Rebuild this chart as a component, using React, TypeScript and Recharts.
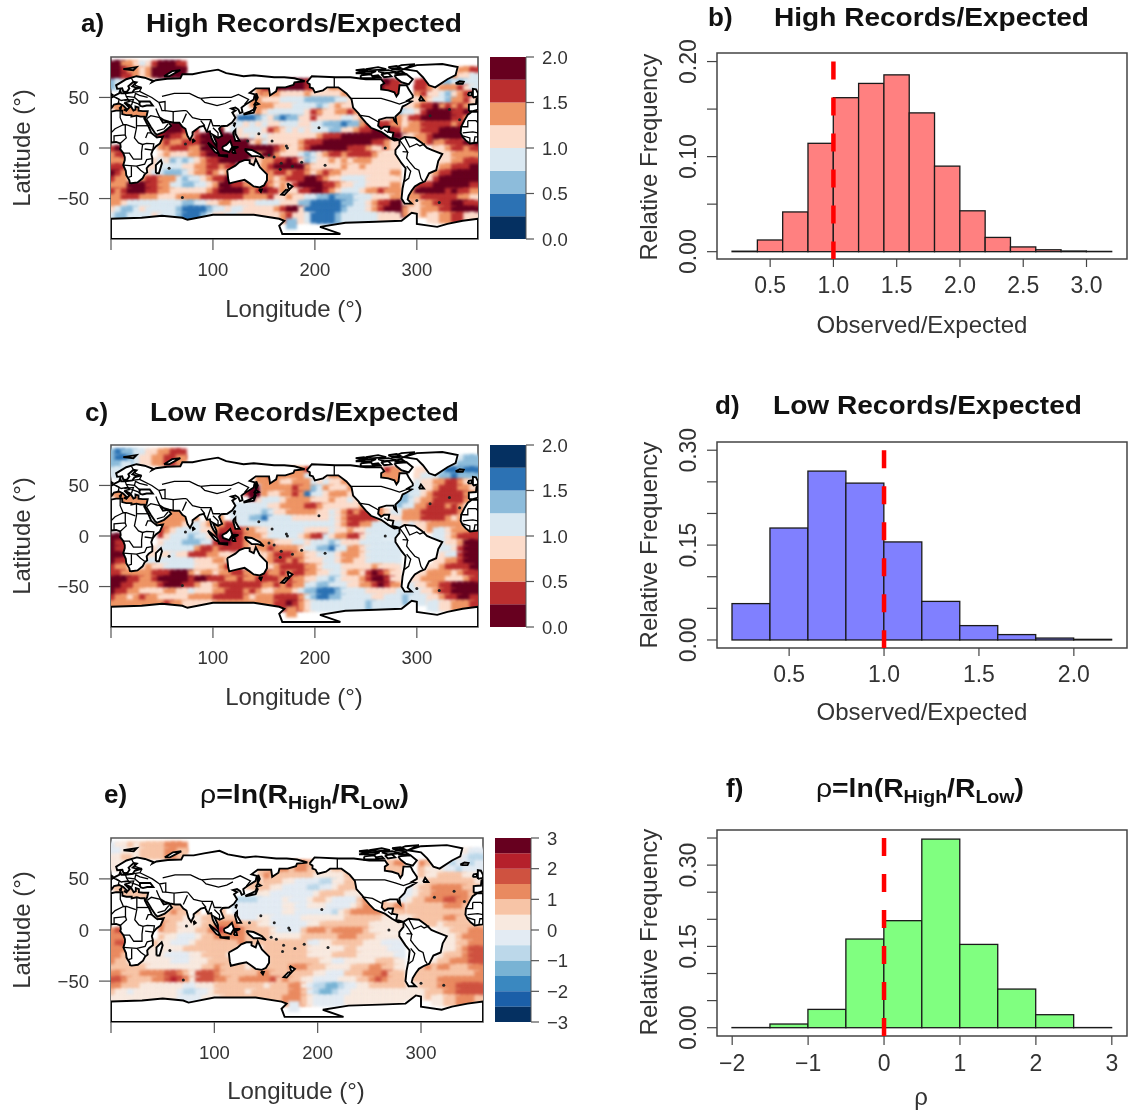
import {
  Bar,
  BarChart,
  ComposedChart,
  ReferenceArea,
  ReferenceLine,
  Scatter,
  ScatterChart,
  XAxis,
  YAxis,
} from "recharts";

const FONT = '"Liberation Sans", Arial, sans-serif';
const INK = "#333";

// colour classes, navy (0) to dark red (last)
const PAL8 = ["#053061", "#2C72B4", "#8DBCDB", "#DAE8F1", "#FCDCCB", "#EE9565", "#BB2F2F", "#67001F"];
const PAL12 = ["#053061", "#1B5FA8", "#3A88C0", "#79B3D4", "#BCD8EA", "#E3EBF3", "#F8E9DF", "#F7C4A6", "#E98A60", "#CF5240", "#B5202B", "#67001F"];

// field rows: 6 degree cells, lat 81 down to -75, lon 3 to 357, "." = no data
const HIGH_ROWS = [
  "7755434677 76........ .......... .......... .......... ..........",
  "7765545777 77........ .......... .......... .......... .......556",
  "776....... .......... .......... .......... .......... ......5443",
  "23........ .......... .........7 7767...... ....776... 6665223233",
  ".......... .......... ....567777 7766445555 ....766... 6654555643",
  ".......... .......... .....55544 4454444455 .......... 5644324566",
  "5......... .......... ...5544433 3322222334 .........4 4543325564",
  ".5555..... .......... ....555444 3333234544 .......344 5667565654",
  "..5555.... .......... ....543333 3346544556 55.....233 4677776676",
  ".......... .........4 4111234212 2446444433 45664.5546 6777776654",
  ".......... 77....55.. 3343434433 3443322212 2566665.45 5666665677",
  "........77 7766..77.. 3433346543 4343332244 5667776.55 5666777766",
  "........67 6654677777 ..43434444 4444566677 7777777744 5567777...",
  "........56 5566677777 7774534444 4566677777 7776654... ...5566677",
  "67.......5 6665577777 7777777654 4567777776 6654...... ...4456656",
  "56......45 4445567777 7777577544 4323456656 6665444... ....445555",
  "55.....434 2323456677 ...4455667 6423445454 5554444... ....445566",
  "66....4.33 3344556656 .....56777 7754444454 4544444... ....556667",
  "765...4332 2234556545 ......5665 6654565544 4444445... ..45667777",
  "6554456655 5323345667 6.....5456 6677654433 3344444... ..46777777",
  "5557776655 3322334577 6655565454 6777766544 3344445..4 6667777776",
  "6567776655 4444445677 7765676.54 4667765433 3455655..5 7777767665",
  "5566655544 4555566666 6655556445 4433221222 3334445..5 5666666554",
  "5543333333 3322334455 4444333344 4221111122 3345667745 4556667766",
  "4322343333 3211112334 3344444567 7411111123 3345677754 4555667777",
  "3223333433 3211123443 34444.4456 4431111233 3333444... ..44556644",
  ".......... .......... .........2 .......... .......... ..........",
];

const LOW_ROWS = [
  "2122334455 66........ .......... .......... .......... ..........",
  "2112344556 65........ .......... .......... .......... .......322",
  "223....... .......... .......... .......... .......... ......3222",
  "33........ .......... .........5 5565...... ....465... 4432211211",
  ".......... .......... ....556555 5533345544 ....555... 4333221222",
  ".......... .......... .....55544 5553434455 .......... 3445566544",
  "5......... .......... ..67.55555 6552354445 .........3 3445666554",
  ".5555..... .......... ...7.54455 6513345554 5......223 3456666655",
  "..5555.... .......... ....433345 5554445443 43.....223 4556666654",
  ".......... .........3 3333334455 5566544444 45.5....33 5566656544",
  ".......... 55....44.. 3333323445 5555443456 5666543.55 5666666545",
  "........55 5555..55.. 3332213333 4444443456 6666544.55 5666654555",
  "........55 5543345556 ..33333333 3333333456 6553333343 4455555...",
  "........65 4333344566 6655443333 3344443445 4433333... ...3345556",
  "77.......4 3332334677 7655543333 3456634556 6433...... ...3345666",
  "76......43 3322233677 6654555444 3343332344 4333333... ....344577",
  "76.....433 3333566566 .....56555 5433221335 5433333... ....334677",
  "77....4.44 3446665544 .....45666 5544333455 5433333... ....433677",
  "766...3333 3333444554 ......5665 6544433455 4433333... ...4455677",
  "6554.45443 3333444456 6.....4566 6655433344 4445444... ..44566667",
  "6655555666 7775455455 6655565565 6655443345 5467654..3 4455554566",
  "7776655677 7776776665 5655666.56 5544332344 4567764..4 4555544456",
  "7766555567 7766544566 6666655656 5533223334 4556765..3 4455667777",
  "7665544445 5443444556 6656544555 4322111233 3344444333 3445667777",
  "6554565544 4445555666 6654555666 6532112233 3334433323 3344566776",
  "5555555556 5544444555 55555.5667 6543333333 3323333... ..33445556",
  ".......... .......... .........5 .......... .......... ..........",
];

const RHO_ROWS = [
  "5667677778 88........ .......... .......... .......... ..........",
  "5566677778 87........ .......... .......... .......... .......655",
  "667....... .......... .......... .......... .......... ......6544",
  "66........ .......... .........8 8878...... ....778... 8766545545",
  ".......... .......... ....778887 8877767776 ....777... 7666554555",
  ".......... .......... .....87777 7776666677 .......... 7667777666",
  "7......... .......... ..77.77766 5555446677 .........6 6777777776",
  ".7777..... .......... ....776655 5544556777 7......556 7788888777",
  "..7777.... .......... ....665555 5556777766 67.....556 7788888877",
  ".......... .........5 4444555565 5567765555 78.7....67 7888998877",
  ".......... 77....77.. 5555555566 5566655556 7888778.77 7777888777",
  "........77 8777..77.. 5555555566 5555554678 8888777.77 7777777777",
  "........77 7766677777 ..55665555 5666666677 7777666667 7777887...",
  "........87 7666677888 8777665555 5566777777 7766666... ...6777777",
  "89.......7 7666778a98 9877776555 5788878888 8766...... ...6677788",
  "88......76 6555677888 8877776666 6777777888 7776666... ....667888",
  "89.....766 5556777777 .....77777 7755667777 7666555... ....667788",
  "88....6.66 6677777777 .....77777 7766666677 6666655... ....667899",
  "887...6665 5556677776 ......7777 7766667777 6666665... ...6777899",
  "8776.66666 5556667777 7.....7777 7777665566 6667776... ..67788899",
  "7777776666 6666677877 7767777778 8877766667 7788776..7 7878877788",
  "8877788889 9876999877 7777887.77 7776655577 7888977..7 7777777778",
  "9987777889 a986999887 7888889787 7665555666 7789877..7 7778888888",
  "8877766666 6655666777 7777767778 8654433455 6677777766 7778889999",
  "7665666666 6544556777 7767777778 8754334556 6666666666 6777889999",
  "6666666666 6555566677 77777.7788 8765555566 6666666... ..66778887",
  ".......... .......... .........5 .......... .......... ..........",
];

// land outlines as [lon, lat]
const LAND: number[][][] = [
  [[0,5.5],[5,6],[9,4.5],[9.5,1],[9,-1],[12,-5],[13.5,-9],[13.5,-12],[12,-17],[14.5,-22.5],[15,-27],[18,-32],[18.5,-34.5],[20,-34.8],[26,-34],[31,-30],[33,-26],[35.5,-24],[35,-20],[37,-17.5],[40.5,-15],[40.5,-10],[39.5,-6],[41,-2],[44,1.5],[48,4.5],[51,11.5],[45,10.5],[43,12],[39.5,15],[37,21],[35,24.5],[33,28.5],[32.5,31],[29,31],[25,32],[20,31],[20,32.5],[15,32.5],[11,33.5],[11,37],[5,37],[0,36]],
  [[360,36],[354,35.8],[350,33],[347,28],[343.5,21],[343,15],[345,11],[348,7.5],[352,4.5],[356,5],[360,5.5]],
  [[351,36.5],[351,43],[358,43.5],[358.5,48.5],[360,49.5],[360,38],[355,36.5]],
  [[0,39],[3,43],[8,44],[12,42],[16,38],[18,40],[13,45],[19,42],[22,37],[24,38],[24,41],[27,40],[27,37],[31,36.5],[36,36.5],[35,32],[34.5,31],[33,29],[35,28],[39,21],[43,15],[45,13],[52,16],[59,22],[56,26],[51,25],[48,30],[52,27.5],[57,26],[62,25],[67,25],[70,21],[73,19],[75,12],[77.5,8],[80,13],[80,15.5],[87,21],[91,22],[94,16],[97,16.5],[98.5,10],[100.5,6],[103.5,1.5],[103.5,5],[100,13],[105,10],[109,12],[106,19],[108,21.5],[114,22],[119,25.5],[122,30],[119,35],[122,37],[118,39],[122,40],[125,38],[126.5,34.5],[129,35.5],[128,40],[132,43],[140,48],[141,53],[136,54.5],[142,59],[155,59],[156,52],[162,56],[163,60],[171,60],[179,62.5],[180,65],[190,66],[180,69],[170,70],[160,70],[140,72],[130,71],[113,74],[105,77.5],[90,75],[80,73],[70,73],[68,69],[55,68.5],[44,67],[40,65],[41,66.5],[33,69.5],[25,71],[15,68],[5,62],[6,58.5],[11,59],[12,56],[14,55.5],[16,56],[18,59],[17,61],[22,65.5],[25,65],[21,61],[24,60],[30,60],[23,58],[21,55],[14,54],[10,54],[9,57],[8,54],[4,52],[1.5,50.5],[0,49.5]],
  [[28,42],[28,46],[33,46],[38,46],[41,42],[35,42],[31,41]],
  [[0,51],[1.5,52.5],[0,53.5]],
  [[355,50],[360,51],[360,54],[358,58],[355,58.5],[355,54]],
  [[350,52],[354,52],[354,55],[351,54.5]],
  [[338,64],[342,66],[346,65.5],[345,63.5],[340,63.5]],
  [[44,-25],[47,-25],[50,-15],[49,-12],[44,-17]],
  [[80,9],[82,7],[80.5,6]],
  [[130,33],[135,34],[140,35],[142,40],[141,41],[140,38],[136,36],[131,34]],
  [[140,42],[145,43.5],[142,45.5]],
  [[142,46],[144,50],[142.5,54],[142,50]],
  [[120,23],[122,25],[121,22]],
  [[120,16],[122,18],[122,14],[126,7],[122,7],[120,14]],
  [[109,1],[113,3],[117,7],[119,1],[116,-4],[110,-2]],
  [[95,5.5],[104,-2],[106,-6],[102,-4],[97,2]],
  [[105,-7],[114,-7],[114,-8.5],[106,-7.5]],
  [[119,-5],[120,1],[125,1],[121,-1],[122,-5]],
  [[131,-1],[138,-2],[146,-6],[150,-10],[144,-8],[138,-8],[133,-4]],
  [[114,-22],[122,-17.5],[126,-14],[131,-12],[136,-12],[136,-15],[140,-17],[142,-11],[146,-19],[153,-26],[153,-32],[150,-37],[146,-39],[140,-38],[136,-35],[131,-31.5],[124,-33],[116,-35],[115,-31]],
  [[145,-41],[148,-41],[147,-43.5]],
  [[173,-35],[178,-38],[175,-41],[174,-39]],
  [[172,-41],[174,-42],[170,-46.5],[167,-46]],
  [[192,65],[197,71],[220,70],[235,70],[250,68],[265,68],[268,64],[265,62],[265,58],[272,57],[278,55],[280,51],[282,54],[283,62],[290,62],[292,58],[296,52],[296,50],[291,47],[295,46],[290,43],[286,41],[284,36],[279,31],[280,25],[278,27],[277,30],[270,30],[263,28],[262,22],[265,19],[268,21],[273,21],[272,16],[277,15],[276,10],[280,9],[283,8],[278,7.5],[272,11],[265,16],[255,20],[250,25],[245,31],[243,34],[237.5,40],[236,48],[231,54],[223,60],[212,60],[208,57],[200,55],[198,59],[195,60],[195,63]],
  [[283,8],[288,11],[298,10],[305,5],[310,0],[315,-2],[325,-6],[321,-13],[319,-22],[312,-25],[308,-33],[303,-35],[298,-38],[295,-42],[292,-47],[291,-51],[295,-55],[288,-55],[285,-50],[286,-40],[288,-30],[289,-20],[285,-15],[279,-6],[279,-2],[283,3]],
  [[287,78],[300,82],[325,83],[340,80],[338,72],[330,68],[318,60],[312,62],[306,70],[300,76]],
  [[278,72],[290,73],[296,68],[292,63],[285,65],[280,69]],
  [[275,78],[285,82],[298,83],[285,77]],
  [[245,72],[255,73],[258,69],[245,69]],
  [[240,74],[250,76],[260,76],[255,74]],
  [[262,76],[272,77],[280,75],[268,74]],
  [[250,78],[262,80],[270,78],[258,77]],
  [[265,73],[272,74],[275,71],[268,70]],
  [[240,77],[248,78],[252,77],[244,76]],
  [[272,80],[280,81],[284,79],[275,78.5]],
  [[256,71],[262,72],[264,70],[258,69.5]],
  [[278,74.5],[285,76],[288,74],[281,73.5]],
  [[302,47],[307,47],[304,51]],
  [[12,78],[25,80],[22,77]],
  [[52,71],[60,76],[68,77],[57,71]],
  [[8,39],[10,41],[9.5,38.5]],
  [[12.5,38],[15.5,38],[15,36.8]],
  [[0,-70],[30,-69],[50,-67],[70,-69],[75,-71],[100,-66],[140,-66],[165,-70],[170,-72],[165,-77],[168,-85],[225,-85],[205,-78],[230,-74],[260,-73],[285,-72],[295,-64],[300,-65],[300,-75],[320,-78],[330,-75],[345,-72],[360,-70],[360,-89.9],[0,-89.9]],
];

const BORDERS: number[][][] = [
  [[47,45],[53,46],[53,37],[50,37],[49,40],[47,45]],
  [[25,31.5],[25,20],[24,15],[23,10],[27,5],[31,3.5],[35,4.5],[42,4],[41,-2]],
  [[9,37],[9,30],[12,23],[15,23],[24,20]],
  [[0,15],[4,19],[12,23]],
  [[3,6],[3,12],[14,13],[15,10],[9,4.5]],
  [[14,13],[14,23]],
  [[12,-5],[18,-5],[22,-11],[30,-11],[30,-4],[31,3.5]],
  [[12,-17],[25,-18],[33,-16],[35,-11.5],[40,-10.5]],
  [[20,-18],[20,-28],[17,-29]],
  [[25,-18],[29,-22],[33,-25]],
  [[33,-1],[41,-2]],
  [[34,10],[36,15],[39,15]],
  [[25,22],[37,22]],
  [[345,15],[355,16],[360,15]],
  [[352,4.5],[352,10],[345,12]],
  [[356,5],[357,11],[360,11]],
  [[350,27],[358,27],[360,25]],
  [[343,21],[350,21],[350,27]],
  [[2,51],[8,48],[7,44]],
  [[14,54],[15,51],[23,50],[29,45]],
  [[21,55],[28,56],[30,60]],
  [[13,47],[22,48],[20,42]],
  [[5,50],[10,47],[16,48],[20,46]],
  [[15,51],[18,46],[14,45]],
  [[23,50],[24,54],[28,52],[36,50]],
  [[20,46],[26,44],[29,42]],
  [[20,69],[24,62],[29,60]],
  [[28,56],[40,50],[47,45]],
  [[50,51],[62,54],[77,54],[85,50],[88,49]],
  [[88,49],[98,50],[108,50],[118,50],[125,53],[135,48],[131,43]],
  [[74,37],[80,30],[88,28],[98,28],[100,22],[107,22]],
  [[88,49],[92,45],[104,42],[112,44],[118,47]],
  [[44,39],[46,34],[48,30]],
  [[61,36],[61,25]],
  [[53,37],[61,36],[71,37],[74,37]],
  [[74,34],[70,25]],
  [[35,29],[39,32],[48,30]],
  [[45,17],[52,19],[56,24]],
  [[88,27],[92,22]],
  [[98,28],[94,16]],
  [[100,20],[105,15],[105,10]],
  [[235.5,49],[265,49],[275,46],[283,43.5],[293,47]],
  [[219,60],[219,70]],
  [[243,32.5],[253,31],[262,26]],
  [[268,18],[272,15]],
  [[283,8],[288,1],[291,-4],[286,-3.5]],
  [[288,11],[293,1],[300,4],[303,2],[308,4]],
  [[291,-4],[290,-10],[293,-14],[298,-20],[302,-22],[304,-30],[306,-33]],
  [[290,-18],[294,-23],[292,-30],[288,-33]],
];

const ISLANDS = [[204,20],[187,-14],[178,-18],[167,-15],[166,-21],[145,14],[134,7],[158,7],[172,2],[173,0],[210,-17],[269,0],[342,28],[332,38],[313,32],[300,-52],[322,-54],[70,-49],[57,-20],[73,4],[155,-7],[160,-9]];

const HIGH_BINS = [0.3, 0.5, 0.7, 0.9, 1.1, 1.3, 1.5, 1.7, 1.9, 2.1, 2.3, 2.5, 2.7, 2.9, 3.1];
const HIGH_FREQ = [0.0005, 0.0123, 0.0418, 0.114, 0.162, 0.177, 0.186, 0.146, 0.09, 0.043, 0.015, 0.005, 0.002, 0.0007, 0.0003];
const LOW_BINS = [0.3, 0.5, 0.7, 0.9, 1.1, 1.3, 1.5, 1.7, 1.9, 2.1];
const LOW_FREQ = [0.0575, 0.177, 0.267, 0.248, 0.155, 0.061, 0.0227, 0.0085, 0.003, 0.001];
const RHO_BINS = [-1.75, -1.25, -0.75, -0.25, 0.25, 0.75, 1.25, 1.75, 2.25, 2.75];
const RHO_FREQ = [0.0003, 0.0068, 0.0338, 0.1636, 0.1975, 0.348, 0.1537, 0.0713, 0.024, 0.0003];

const LON_TICKS = [0, 100, 200, 300];
const LAT_TICKS = [-50, 0, 50];
const RATIO_TICKS = [0, 0.5, 1, 1.5, 2];
const RHO_BAR_TICKS = [-3, -2, -1, 0, 1, 2, 3];

const minus = (s: string) => s.replace("-", "\u2212");

function toCells(rows: string[]) {
  return rows.flatMap((row, j) =>
    [...row.replace(/ /g, "")].flatMap((ch, i) =>
      ch === "." ? [] : [{ lon: 3 + 6 * i, lat: 81 - 6 * j, level: parseInt(ch, 16) }],
    ),
  );
}

const toPoints = (poly: number[][]) => poly.map(([lon, lat]) => ({ lon, lat }));

function MapPanel({ rows, palette, l, t, w, h }: any) {
  // oversize the cells so the soft edges overlap and leave no holes at the corners
  const cellW = (w * 6) / 360 + 5;
  const cellH = (h * 6) / 180 + 5;
  const cell = (p: any) => (
    <rect
      x={p.cx - cellW / 2}
      y={p.cy - cellH / 2}
      width={cellW}
      height={cellH}
      fill={palette[p.payload.level]}
      style={{ filter: "blur(1.8px)" }}
    />
  );
  return (
    <div style={{ position: "absolute", left: l - 70, top: t - 6 }}>
      <ScatterChart width={w + 73} height={h + 56} margin={{ top: 6, right: 3, left: 0, bottom: 0 }}>
        <XAxis
          type="number"
          dataKey="lon"
          domain={[0, 360]}
          ticks={LON_TICKS}
          allowDataOverflow
          height={50}
          tickSize={11}
          tickMargin={13}
          axisLine={false}
          tick={{ fontSize: 18.5, fill: INK }}
          tickLine={{ stroke: "#555", strokeWidth: 1.2 }}
          tickFormatter={(v) => (v === 0 ? "" : `${v}`)}
        />
        <YAxis
          type="number"
          dataKey="lat"
          domain={[-90, 90]}
          ticks={LAT_TICKS}
          allowDataOverflow
          width={70}
          tickSize={12}
          tickMargin={10}
          axisLine={false}
          tick={{ fontSize: 18.5, fill: INK }}
          tickLine={{ stroke: "#555", strokeWidth: 1.2 }}
          tickFormatter={(v) => minus(`${v}`)}
        />
        <Scatter data={toCells(rows)} shape={cell} isAnimationActive={false} />
        {LAND.map((poly, i) => (
          <Scatter
            key={`land-${i}`}
            data={toPoints([...poly, poly[0]])}
            line={{ stroke: "#000", strokeWidth: 1.9, fill: "#fff" }}
            lineJointType="linear"
            shape={() => <g />}
            isAnimationActive={false}
          />
        ))}
        {BORDERS.map((line, i) => (
          <Scatter
            key={`border-${i}`}
            data={toPoints(line)}
            line={{ stroke: "#000", strokeWidth: 1.3, fill: "none" }}
            lineJointType="linear"
            shape={() => <g />}
            isAnimationActive={false}
          />
        ))}
        <Scatter
          data={toPoints(ISLANDS)}
          shape={(p: any) => <circle cx={p.cx} cy={p.cy} r={1.5} fill="#222" />}
          isAnimationActive={false}
        />
        <ReferenceArea x1={0} x2={360} y1={-90} y2={90} fill="none" stroke="#555" strokeWidth={1.6} ifOverflow="visible" />
      </ScatterChart>
    </div>
  );
}

function ColorBar({ colors, domain, ticks, format, l, t, w, h }: any) {
  const step = (domain[1] - domain[0]) / colors.length;
  // split at zero so the sign stack fills the domain from the middle outwards
  const segments = colors
    .map((color: string, i: number) => ({ color, lo: domain[0] + i * step }))
    .sort((a: any, b: any) => Math.abs(a.lo + step / 2) - Math.abs(b.lo + step / 2));
  const row: any = { name: "bar" };
  segments.forEach((s: any, i: number) => {
    row[`s${i}`] = s.lo >= -1e-9 ? step : -step;
  });
  return (
    <div style={{ position: "absolute", left: l, top: t - 12 }}>
      <BarChart
        width={w + 50}
        height={h + 24}
        data={[row]}
        barCategoryGap={0}
        stackOffset="sign"
        margin={{ top: 12, right: 0, left: 0, bottom: 12 }}
      >
        <XAxis dataKey="name" hide />
        <YAxis
          orientation="right"
          type="number"
          domain={domain}
          ticks={ticks}
          width={50}
          tickSize={8}
          tickMargin={8}
          axisLine={{ stroke: "#555" }}
          tickLine={{ stroke: "#555", strokeWidth: 1.2 }}
          tick={{ fontSize: 18.5, fill: INK, textAnchor: "start" }}
          tickFormatter={format}
        />
        {segments.map((s: any, i: number) => (
          <Bar key={i} dataKey={`s${i}`} stackId="bar" fill={s.color} isAnimationActive={false} />
        ))}
      </BarChart>
    </div>
  );
}

function Hist({ bins, freq, fill, xDomain, xTicks, xFormat, yDomain, yTicks, yLabels, refX, refTop, tickLen, l, t, w, h }: any) {
  const data = bins.map((mid: number, i: number) => ({ mid, freq: freq[i] }));
  const binW = ((bins[1] - bins[0]) * w) / (xDomain[1] - xDomain[0]);
  // bars touch: keep the library's centre and height, widen to the full bin
  const binBar = (p: any) => (
    <rect
      x={p.x + p.width / 2 - binW / 2}
      y={p.y}
      width={binW}
      height={p.height}
      fill={fill}
      stroke="#1a1a1a"
      strokeWidth={1.3}
    />
  );
  const yTick = (p: any) => {
    const v = p.payload.value;
    if (!yLabels.includes(v)) return <g />;
    const bx = p.x - 11;
    return (
      <text x={bx} y={p.y} fontSize={23} fill={INK} textAnchor="middle" transform={`rotate(-90, ${bx}, ${p.y})`}>
        {v.toFixed(2)}
      </text>
    );
  };
  return (
    <div style={{ position: "absolute", left: l - 70, top: t - 30 }}>
      <ComposedChart
        width={w + 73}
        height={h + 80}
        data={data}
        margin={{ top: 30, right: 3, left: 0, bottom: 0 }}
      >
        <XAxis
          type="number"
          dataKey="mid"
          domain={xDomain}
          ticks={xTicks}
          allowDataOverflow
          height={50}
          tickSize={tickLen}
          tickMargin={10}
          axisLine={false}
          tick={{ fontSize: 23, fill: INK }}
          tickLine={{ stroke: "#444", strokeWidth: 1.2 }}
          tickFormatter={xFormat}
        />
        <YAxis
          type="number"
          domain={yDomain}
          ticks={yTicks}
          allowDataOverflow
          width={70}
          tickSize={10}
          tickMargin={0}
          axisLine={false}
          tick={yTick}
          tickLine={{ stroke: "#444", strokeWidth: 1.2 }}
        />
        <Bar dataKey="freq" shape={binBar} isAnimationActive={false} />
        <ReferenceArea x1={xDomain[0]} x2={xDomain[1]} y1={yDomain[0]} y2={yDomain[1]} fill="none" stroke="#444" strokeWidth={1.5} ifOverflow="visible" />
        <ReferenceLine
          segment={[
            { x: refX, y: refTop },
            { x: refX, y: yDomain[0] },
          ]}
          stroke="#ff0000"
          strokeWidth={4.5}
          strokeDasharray="18 18"
          ifOverflow="visible"
        />
      </ComposedChart>
    </div>
  );
}

function Labels() {
  const bold = { fontWeight: 700, fill: "#111", fontSize: 26 };
  const label = { fill: INK, fontSize: 24 };
  const rhoTitle = (x: number, y: number, len: number) => (
    <text x={x} y={y} {...bold} textLength={len} lengthAdjust="spacingAndGlyphs">
      <tspan fontWeight={400}>ρ</tspan>=ln(R
      <tspan fontSize={18} dy={6}>High</tspan>
      <tspan dy={-6}>/R</tspan>
      <tspan fontSize={18} dy={6}>Low</tspan>
      <tspan dy={-6}>)</tspan>
    </text>
  );
  const titles = [
    { tag: "a)", tx: 81, text: "High Records/Expected", x: 146, len: 316, y: 32 },
    { tag: "b)", tx: 708, text: "High Records/Expected", x: 774, len: 315, y: 26 },
    { tag: "c)", tx: 85, text: "Low Records/Expected", x: 150, len: 309, y: 421 },
    { tag: "d)", tx: 715, text: "Low Records/Expected", x: 773, len: 309, y: 414 },
  ];
  const lats = [148, 536, 930];
  const lons = [
    { x: 294, y: 317 },
    { x: 294, y: 705 },
    { x: 296, y: 1099 },
  ];
  const freqs = [157, 545, 932];
  const obs = [
    { x: 922, y: 333, text: "Observed/Expected" },
    { x: 922, y: 720, text: "Observed/Expected" },
    { x: 921, y: 1105, text: "ρ" },
  ];
  return (
    <svg width={1130} height={1111} style={{ position: "absolute", left: 0, top: 0, pointerEvents: "none" }}>
      {titles.map((d) => (
        <g key={d.tag + d.text}>
          <text x={d.tx} y={d.y} {...bold}>{d.tag}</text>
          <text x={d.x} y={d.y} {...bold} textLength={d.len} lengthAdjust="spacingAndGlyphs">{d.text}</text>
        </g>
      ))}
      <text x={104} y={803} {...bold}>e)</text>
      {rhoTitle(200, 803, 209)}
      <text x={726} y={797} {...bold}>f)</text>
      {rhoTitle(816, 797, 208)}
      {lats.map((y) => (
        <text key={y} x={30} y={y} {...label} textAnchor="middle" transform={`rotate(-90, 30, ${y})`}>Latitude (°)</text>
      ))}
      {lons.map((d) => (
        <text key={d.y} x={d.x} y={d.y} {...label} textAnchor="middle">Longitude (°)</text>
      ))}
      {freqs.map((y) => (
        <text key={y} x={657} y={y} {...label} textAnchor="middle" transform={`rotate(-90, 657, ${y})`}>Relative Frequency</text>
      ))}
      {obs.map((d) => (
        <text key={d.y} x={d.x} y={d.y} {...label} textAnchor="middle">{d.text}</text>
      ))}
    </svg>
  );
}

const fmt1 = (v: number) => v.toFixed(1);

export default function App() {
  return (
    <div
      style={{
        position: "absolute",
        left: 0,
        top: 0,
        width: 1130,
        height: 1111,
        overflow: "hidden",
        background: "#fff",
        fontFamily: FONT,
        filter: "blur(0.7px)",
      }}
    >
      <MapPanel rows={HIGH_ROWS} palette={PAL8} l={111} t={57} w={367} h={182} />
      <ColorBar colors={PAL8} domain={[0, 2]} ticks={RATIO_TICKS} format={fmt1} l={490} t={57} w={36} h={182} />
      <MapPanel rows={LOW_ROWS} palette={PAL8} l={111} t={445} w={367} h={182} />
      <ColorBar colors={[...PAL8].reverse()} domain={[0, 2]} ticks={RATIO_TICKS} format={fmt1} l={490} t={445} w={36} h={182} />
      <MapPanel rows={RHO_ROWS} palette={PAL12} l={111} t={838} w={372} h={184} />
      <ColorBar colors={PAL12} domain={[-3, 3]} ticks={RHO_BAR_TICKS} format={(v: number) => minus(`${v}`)} l={495} t={838} w={36} h={184} />

      <Hist
        bins={HIGH_BINS}
        freq={HIGH_FREQ}
        fill="#ff8080"
        xDomain={[0.08, 3.32]}
        xTicks={[0.5, 1, 1.5, 2, 2.5, 3]}
        xFormat={fmt1}
        yDomain={[-0.0077, 0.209]}
        yTicks={[0, 0.05, 0.1, 0.15, 0.2]}
        yLabels={[0, 0.1, 0.2]}
        refX={1}
        refTop={0.2}
        tickLen={8}
        l={717}
        t={53}
        w={410}
        h={206}
      />
      <Hist
        bins={LOW_BINS}
        freq={LOW_FREQ}
        fill="#8080ff"
        xDomain={[0.12, 2.28]}
        xTicks={[0.5, 1, 1.5, 2]}
        xFormat={fmt1}
        yDomain={[-0.0127, 0.313]}
        yTicks={[0, 0.05, 0.1, 0.15, 0.2, 0.25, 0.3]}
        yLabels={[0, 0.15, 0.3]}
        refX={1}
        refTop={0.3}
        tickLen={8}
        l={717}
        t={442}
        w={410}
        h={206}
      />
      <Hist
        bins={RHO_BINS}
        freq={RHO_FREQ}
        fill="#80ff80"
        xDomain={[-2.2, 3.2]}
        xTicks={[-2, -1, 0, 1, 2, 3]}
        xFormat={(v: number) => minus(`${v}`)}
        yDomain={[-0.0153, 0.3648]}
        yTicks={[0, 0.05, 0.1, 0.15, 0.2, 0.25, 0.3, 0.35]}
        yLabels={[0, 0.15, 0.3]}
        refX={0}
        refTop={0.35}
        tickLen={9}
        l={717}
        t={830}
        w={410}
        h={206}
      />
      <Labels />
    </div>
  );
}
